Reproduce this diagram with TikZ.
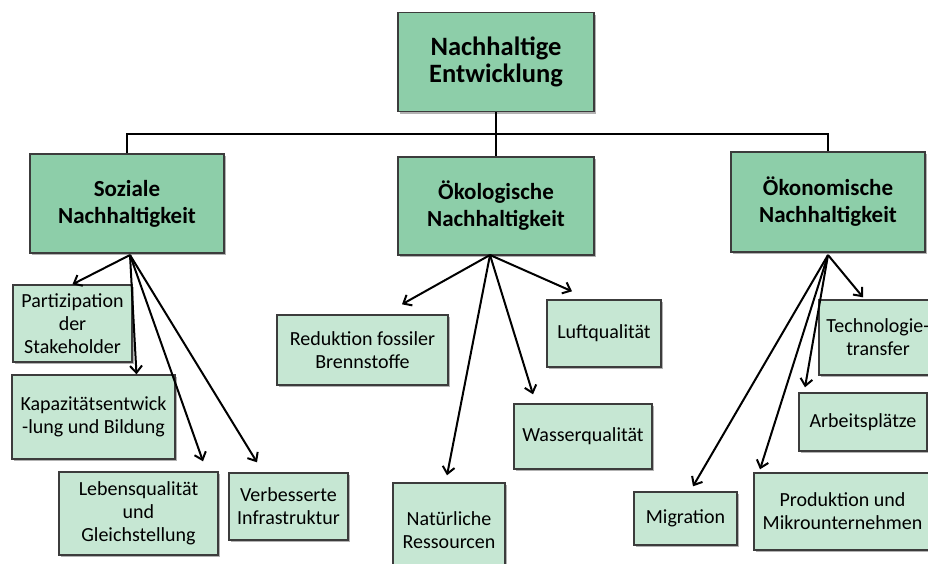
\documentclass[tikz,border=0pt]{standalone}
\usepackage{fontspec}
\setmainfont{Carlito}
\usetikzlibrary{arrows.meta,shadows}
\definecolor{boxdark}{HTML}{8DCEA9}
\definecolor{boxlight}{HTML}{C6E7D3}
\definecolor{boxline}{HTML}{3C3C3C}
\begin{document}
\begin{tikzpicture}[x=1pt,y=-1pt,
  anybox/.style={draw=boxline,line width=1.4pt,inner sep=0pt,align=center,text=black,
    drop shadow={shadow xshift=2pt,shadow yshift=-2pt,opacity=0.3,fill=black}},
  mainbox/.style={anybox,fill=boxdark,font=\fontsize{23}{27}\selectfont\bfseries},
  leafbox/.style={anybox,fill=boxlight,font=\fontsize{20}{23}\selectfont},
  bus/.style={line width=2.4pt},
  arr/.style={line width=2pt,-{Straight Barb[length=7pt,width=12pt,line width=2pt]}}]
\useasboundingbox (0,0) rectangle (928,563);
\node[mainbox,font=\fontsize{26.5}{27}\selectfont\bfseries,minimum width=196pt,minimum height=99pt] (ne) at (496,62) {Nachhaltige\\Entwicklung};
\node[mainbox,minimum width=194pt,minimum height=99pt] (soz) at (127,203.5) {Soziale\\Nachhaltigkeit};
\node[mainbox,minimum width=196pt,minimum height=98pt] (oeko) at (496,206) {Ökologische\\Nachhaltigkeit};
\node[mainbox,minimum width=194pt,minimum height=100pt] (oekon) at (828,202) {Ökonomische\\Nachhaltigkeit};
\coordinate (knot) at (496,134);
\draw[bus] (ne.south) -- (oeko.north);
\draw[bus] (soz.north) |- (knot) -| (oekon.north);
\node[leafbox,minimum width=119pt,minimum height=77pt] (part) at (72.5,323.5) {Partizipation\\der\\Stakeholder};
\node[leafbox,minimum width=163pt,minimum height=84pt] (kap) at (93.5,417) {Kapazitätsentwick\\-lung und Bildung};
\node[leafbox,minimum width=159pt,minimum height=83pt] (leb) at (138.5,513.5) {Lebensqualität\\und\\Gleichstellung};
\node[leafbox,minimum width=119pt,minimum height=67pt] (inf) at (288.5,506.5) {Verbesserte\\Infrastruktur};
\node[leafbox,minimum width=171pt,minimum height=70pt] (red) at (362.5,350) {Reduktion fossiler\\Brennstoffe};
\node[leafbox,minimum width=114pt,minimum height=67pt] (luft) at (604,333.5) {Luftqualität};
\node[leafbox,minimum width=138pt,minimum height=65pt] (wass) at (583,436.5) {Wasserqualität};
\node[leafbox,minimum width=112pt,minimum height=94pt] (nat) at (449,530) {Natürliche\\Ressourcen};
\node[leafbox,minimum width=118pt,minimum height=75pt] (tech) at (878,337.5) {Technologie-\\transfer};
\node[leafbox,minimum width=128pt,minimum height=58pt] (arb) at (863,422) {Arbeitsplätze};
\node[leafbox,minimum width=177pt,minimum height=77pt] (prod) at (842.5,511.5) {Produktion und\\Mikrounternehmen};
\node[leafbox,minimum width=103pt,minimum height=53pt] (mig) at (685.5,518.5) {Migration};
\coordinate (sozfoot) at (130,255);
\coordinate (oekofoot) at (490,255);
\coordinate (oekonfoot) at (828,255);
\draw[arr] (sozfoot) -- (part.north);
\draw[arr] (sozfoot) -- ([xshift=43pt]kap.north);
\draw[arr] (sozfoot) -- ([xshift=64.5pt,yshift=10pt]leb.north);
\draw[arr] (sozfoot) -- ([xshift=-31.5pt,yshift=10pt]inf.north);
\draw[arr] (oekofoot) -- ([xshift=39.5pt,yshift=10pt]red.north);
\draw[arr] (oekofoot) -- ([xshift=-32pt,yshift=8pt]luft.north);
\draw[arr] (oekofoot) -- ([xshift=-50pt,yshift=9pt]wass.north);
\draw[arr] (oekofoot) -- ([xshift=-2pt,yshift=7pt]nat.north);
\draw[arr] (oekonfoot) -- ([xshift=-15pt,yshift=2pt]tech.north);
\draw[arr] (oekonfoot) -- ([xshift=-58pt,yshift=5pt]arb.north);
\draw[arr] (oekonfoot) -- ([xshift=-82.5pt,yshift=3pt]prod.north);
\draw[arr] (oekonfoot) -- ([xshift=7.5pt,yshift=5pt]mig.north);
\end{tikzpicture}
\end{document}
